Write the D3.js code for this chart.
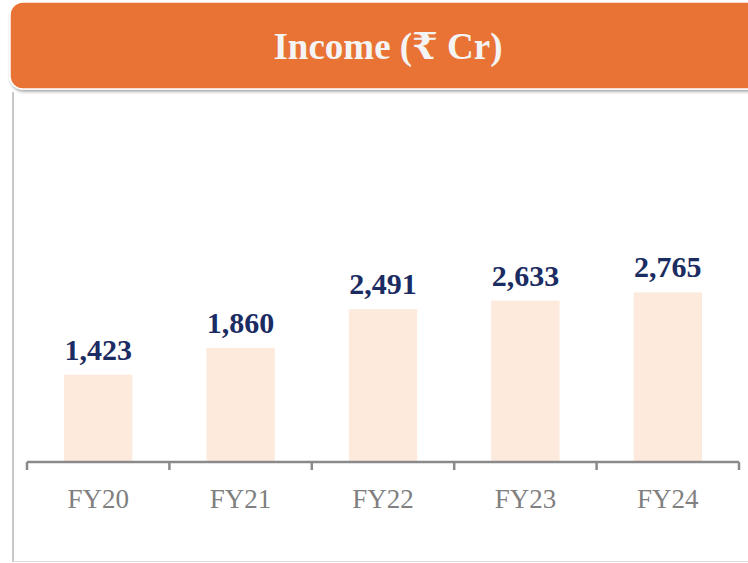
<!DOCTYPE html>
<html>
<head>
<meta charset="utf-8">
<script src="https://cdn.jsdelivr.net/npm/d3@7"></script>
<style>
  html, body { margin: 0; padding: 0; background: #fff; }
  svg { display: block; }
</style>
</head>
<body>
<script>
const years = ['FY20', 'FY21', 'FY22', 'FY23', 'FY24'];
const income = [1423, 1860, 2491, 2633, 2765];
const title = 'Income (\u20B9 Cr)';

const W = 748, H = 563;
const serif = '"Liberation Serif", "DejaVu Serif", serif';

const svg = d3.select('body')
  .append('svg')
    .attr('width', W)
    .attr('height', H);

const defs = svg.append('defs');
const shadow = defs.append('filter').attr('id', 'shadow')
  .attr('x', '-5%').attr('y', '-10%').attr('width', '110%').attr('height', '130%');
shadow.append('feDropShadow')
  .attr('dx', 1).attr('dy', 2).attr('stdDeviation', 1.5)
  .attr('flood-color', '#000').attr('flood-opacity', 0.35);

// panel border
svg.append('line')
  .attr('x1', 13).attr('x2', 13).attr('y1', 92).attr('y2', 562)
  .attr('stroke', '#c8c8c8').attr('stroke-width', 2);
svg.append('line')
  .attr('x1', 13).attr('x2', W).attr('y1', 561.5).attr('y2', 561.5)
  .attr('stroke', '#dcdcdc').attr('stroke-width', 1);

// header
svg.append('rect')
  .attr('x', 10).attr('y', 2)
  .attr('width', W + 20).attr('height', 87)
  .attr('rx', 13)
  .attr('fill', '#E97334')
  .attr('stroke', '#fff').attr('stroke-width', 1.5)
  .attr('filter', 'url(#shadow)');

svg.append('text')
  .attr('x', 388).attr('y', 59)
  .attr('text-anchor', 'middle')
  .attr('font-family', serif)
  .attr('font-weight', 'bold')
  .attr('font-size', 37)
  .attr('fill', '#f4f4f4')
  .text(title);

// chart
const x = d3.scaleBand()
  .domain(years)
  .range([27, 739])
  .paddingInner(0.52)
  .paddingOuter(0.26);

const y = d3.scaleLinear()
  .domain([0, 3000])
  .range([462, 278]);

const canvas = svg.append('g');

canvas.selectAll('rect.bar')
  .data(years)
  .enter()
    .append('rect')
      .attr('class', 'bar')
      .attr('x', d => x(d))
      .attr('width', x.bandwidth())
      .attr('y', (d, i) => y(income[i]))
      .attr('height', (d, i) => y(0) - y(income[i]))
      .attr('fill', '#FDEADC');

canvas.selectAll('text.val')
  .data(years)
  .enter()
    .append('text')
      .attr('class', 'val')
      .attr('x', d => x(d) + x.bandwidth() / 2)
      .attr('y', (d, i) => y(income[i]) - 15)
      .attr('text-anchor', 'middle')
      .attr('font-family', serif)
      .attr('font-weight', 'bold')
      .attr('font-size', 30)
      .attr('fill', '#1B2C63')
      .text((d, i) => d3.format(',')(income[i]));

// axis with ticks at category boundaries
const step = x.step();
const bounds = years.map(d => x(d) + x.bandwidth() / 2 - step / 2);
bounds.push(bounds[bounds.length - 1] + step);

const axis = svg.append('g').attr('stroke', '#8a8a8a').attr('stroke-width', 2.5);
axis.append('line')
  .attr('x1', bounds[0]).attr('x2', bounds[bounds.length - 1])
  .attr('y1', y(0)).attr('y2', y(0));
axis.selectAll('line.tick')
  .data(bounds)
  .enter()
    .append('line')
      .attr('class', 'tick')
      .attr('x1', d => d).attr('x2', d => d)
      .attr('y1', y(0)).attr('y2', y(0) + 8);

svg.selectAll('text.cat')
  .data(years)
  .enter()
    .append('text')
      .attr('class', 'cat')
      .attr('x', d => x(d) + x.bandwidth() / 2)
      .attr('y', 508)
      .attr('text-anchor', 'middle')
      .attr('font-family', serif)
      .attr('font-size', 27)
      .attr('fill', '#808080')
      .text(d => d);
</script>
</body>
</html>
